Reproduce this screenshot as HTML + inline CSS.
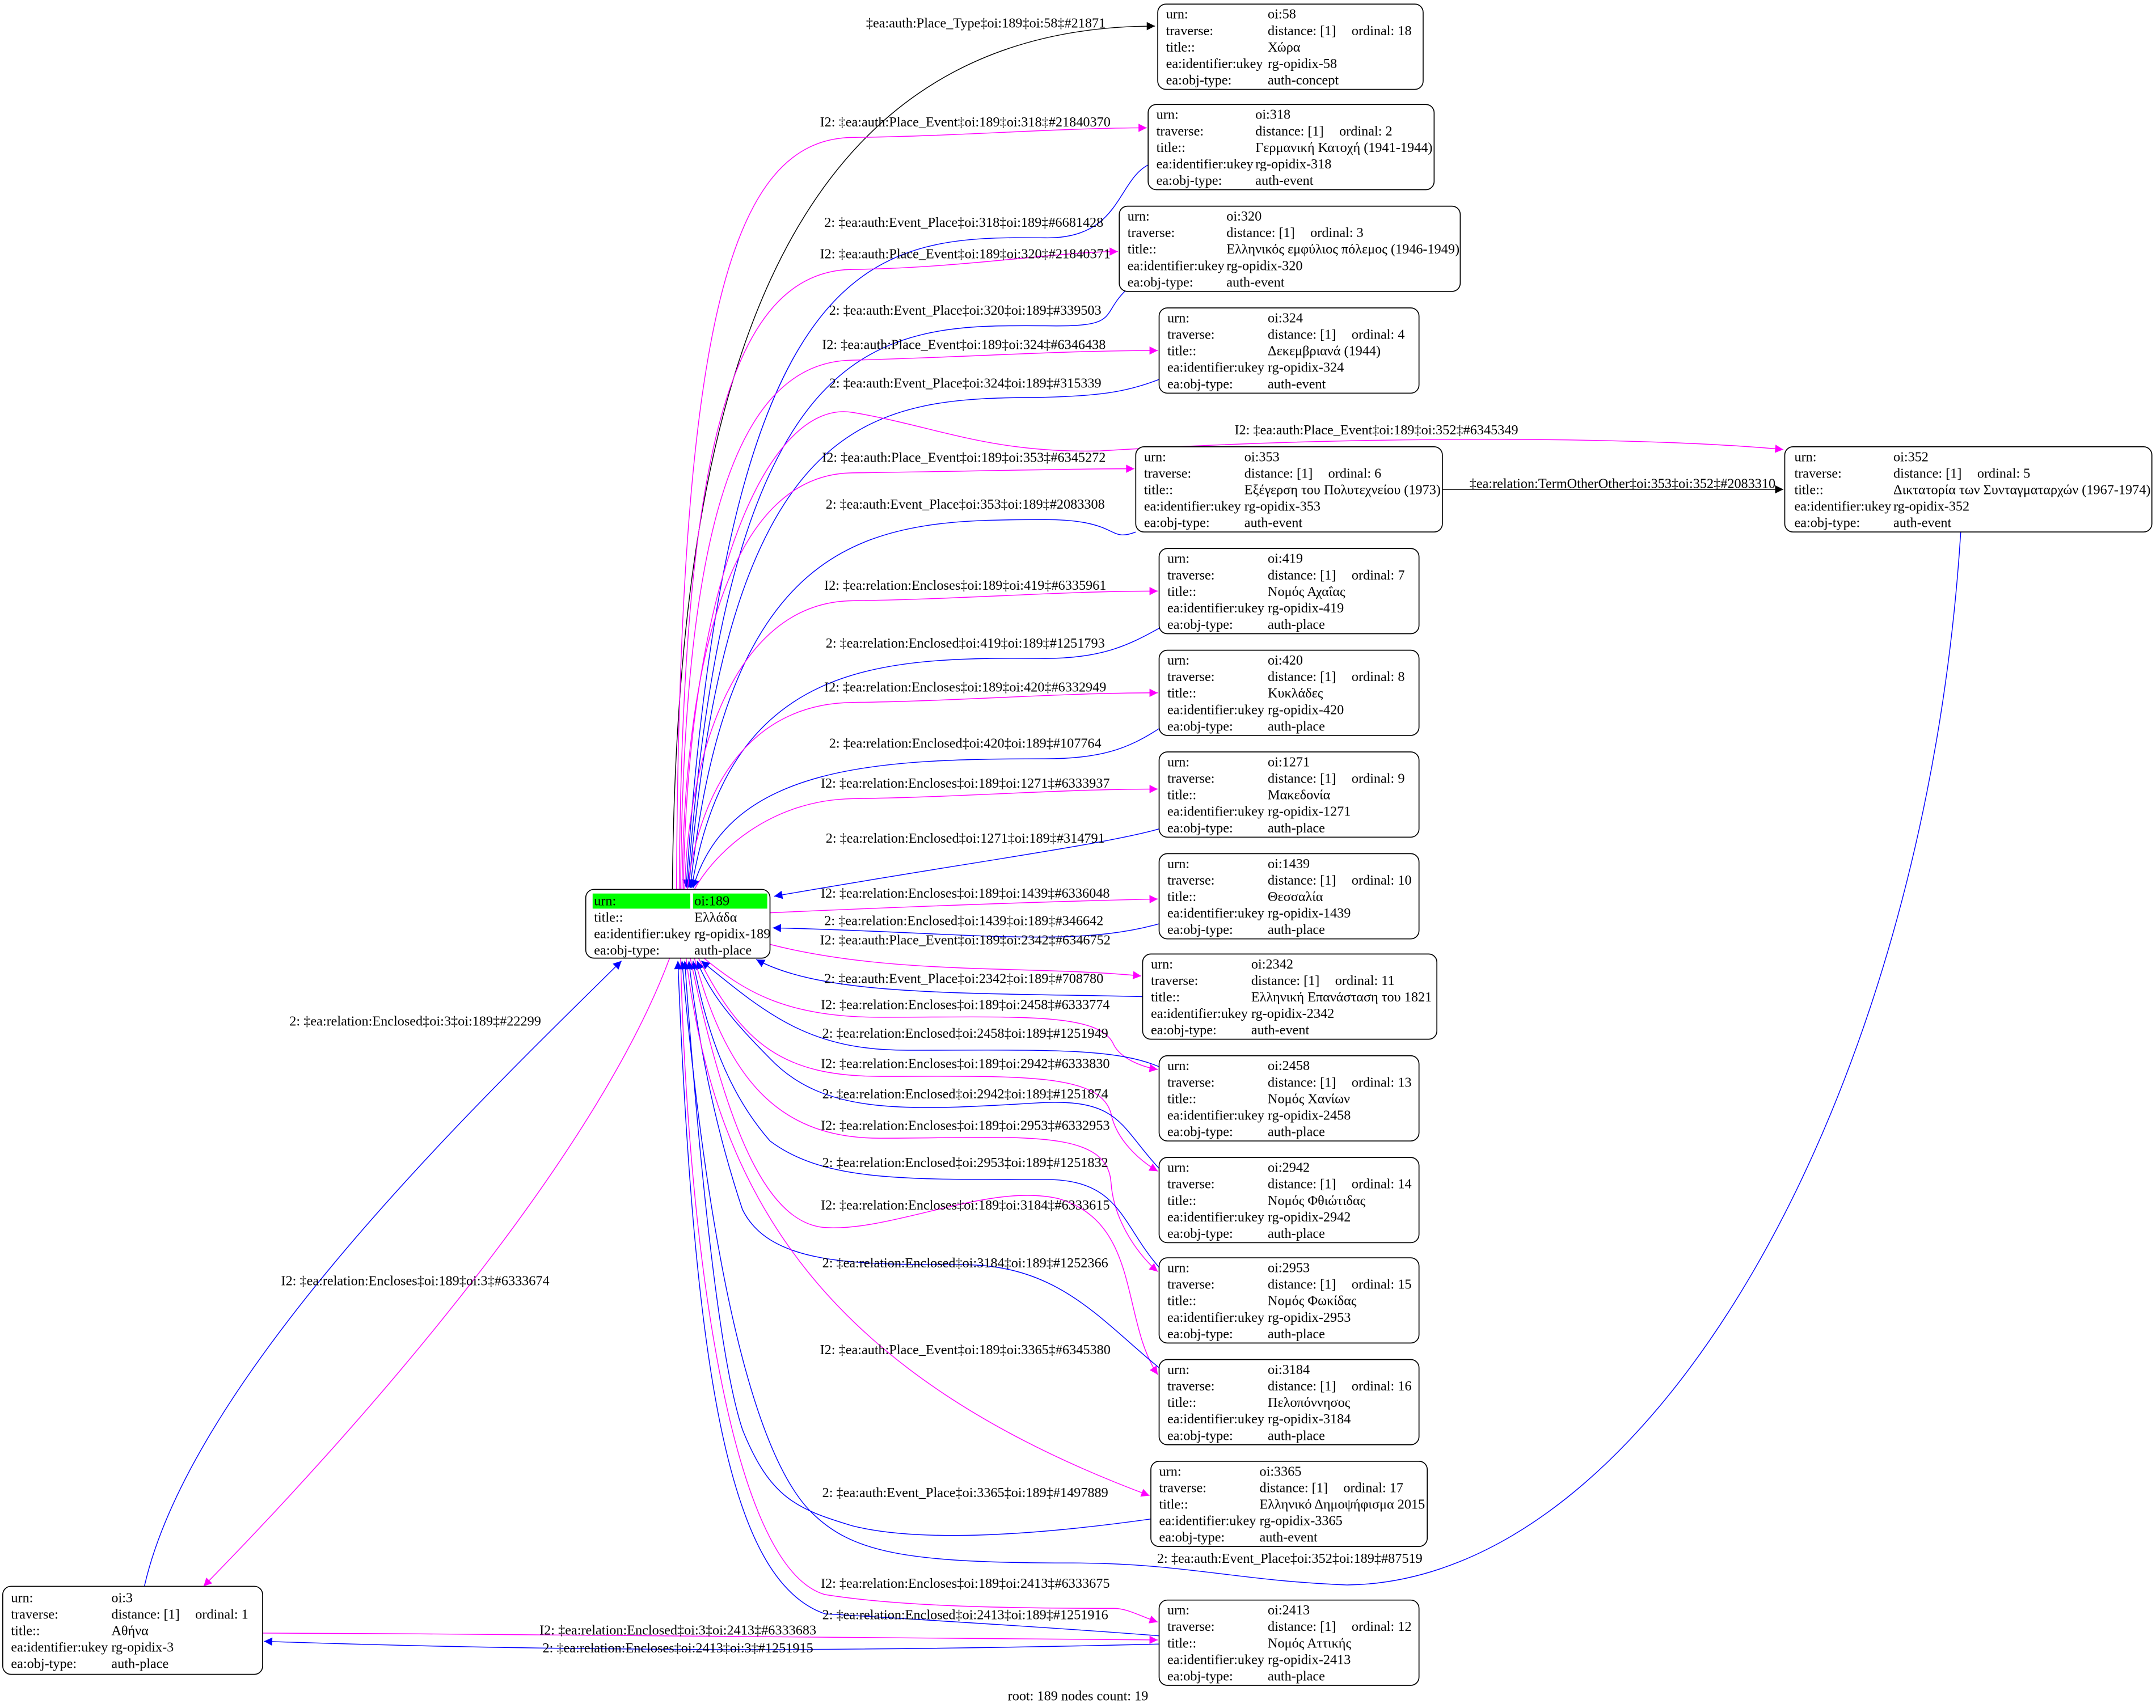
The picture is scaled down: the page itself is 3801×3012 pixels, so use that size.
<!DOCTYPE html>
<html><head><meta charset="utf-8"><style>
html,body{margin:0;padding:0;background:#fff;}
svg{display:block;}
text{font-family:"Liberation Serif","DejaVu Serif",serif;font-size:10px;fill:#000;}
.e{fill:none;stroke-width:0.6;}
.m{stroke:#ff00ff;}.b{stroke:#0000ff;}.k{stroke:#000;}
.n{fill:#fff;stroke:#000;stroke-width:0.7;}
.lc text{text-anchor:middle;}
</style></head><body>
<svg width="3801" height="3012" viewBox="0 0 1568 1242.5" preserveAspectRatio="none" xmlns="http://www.w3.org/2000/svg">
<defs>
<marker id="am" viewBox="0 0 10 10" refX="10" refY="5" markerWidth="8" markerHeight="6" orient="auto" markerUnits="userSpaceOnUse"><path d="M0,0L10,5L0,10z" fill="#ff00ff"/></marker>
<marker id="ab" viewBox="0 0 10 10" refX="10" refY="5" markerWidth="8" markerHeight="6" orient="auto" markerUnits="userSpaceOnUse"><path d="M0,0L10,5L0,10z" fill="#0000ff"/></marker>
<marker id="ak" viewBox="0 0 10 10" refX="10" refY="5" markerWidth="8" markerHeight="6" orient="auto" markerUnits="userSpaceOnUse"><path d="M0,0L10,5L0,10z" fill="#000"/></marker>
</defs>
<rect width="1568" height="1242.5" fill="#fff"/>

<!-- edges upper -->
<path class="e k" marker-end="url(#ak)" d="M489,647 C492,300 560,19 840,19"/>
<path class="e m" marker-end="url(#am)" d="M492,647 C494,239 530,101 620,100 C700,99 770,93 834,93"/>
<path class="e b" marker-end="url(#ab)" d="M835,120 C812,132 815,174 760,173 C640,172 530,172 499,646"/>
<path class="e m" marker-end="url(#am)" d="M494,647 C496,335 530,197 620,196 C700,195 770,183 813,183"/>
<path class="e b" marker-end="url(#ab)" d="M818,212 C800,230 815,238 760,237 C640,236 530,236 500,646"/>
<path class="e m" marker-end="url(#am)" d="M495,647 C497,401 530,263 620,262 C700,260 770,255 842,255"/>
<path class="e b" marker-end="url(#ab)" d="M843,276 C820,285 800,288 760,289 C640,290 530,290 501,646"/>
<path class="e m" marker-end="url(#am)" d="M497,647 C500,420 560,290 620,300 C680,310 720,330 800,328 C1000,316 1200,318 1297,327"/>
<path class="e m" marker-end="url(#am)" d="M496,647 C498,483 530,345 620,344 C700,343 770,341 825,341"/>
<path class="e b" marker-end="url(#ab)" d="M826,387 C805,395 815,378 760,378 C640,378 530,380 502,646"/>
<path class="e k" marker-end="url(#ak)" d="M1049,356 L1297,356"/>
<path class="e m" marker-end="url(#am)" d="M498,647 C500,560 530,438 620,437 C700,436 770,430 842,430"/>
<path class="e b" marker-end="url(#ab)" d="M843,457 C820,470 800,479 760,479 C640,478 530,480 503,646"/>
<path class="e m" marker-end="url(#am)" d="M500,647 C505,600 530,512 620,511 C700,510 770,504 842,504"/>
<path class="e b" marker-end="url(#ab)" d="M843,530 C820,545 800,552 760,552 C640,552 530,556 504,646"/>
<path class="e m" marker-end="url(#am)" d="M505,647 C520,620 560,582 620,581 C700,580 770,574 842,574"/>
<path class="e b" marker-end="url(#ab)" d="M843,603 C800,615 700,628 563,652"/>
<path class="e m" marker-end="url(#am)" d="M560,664 C650,660 750,656 842,654"/>
<path class="e b" marker-end="url(#ab)" d="M843,672 C780,690 700,678 562,675"/>
<path class="e m" marker-end="url(#am)" d="M560,687 C650,710 750,702 830,710"/>
<path class="e b" marker-end="url(#ab)" d="M831,725 C700,722 600,725 550,698"/>
<!-- lower -->
<path class="e m" marker-end="url(#am)" d="M512,697 C540,720 570,740 640,740 C740,740 800,736 810,760 C815,770 830,776 842,778"/>
<path class="e b" marker-end="url(#ab)" d="M843,776 C810,762 760,764 660,764 C590,764 560,740 510,699"/>
<path class="e m" marker-end="url(#am)" d="M508,697 C540,760 570,783 640,783 C740,783 800,780 808,810 C812,830 830,845 842,852"/>
<path class="e b" marker-end="url(#ab)" d="M843,850 C815,820 815,800 760,802 C660,808 600,812 560,770 C530,740 515,720 507,699"/>
<path class="e m" marker-end="url(#am)" d="M505,697 C530,790 570,828 640,828 C740,828 805,820 808,860 C810,890 830,915 842,925"/>
<path class="e b" marker-end="url(#ab)" d="M843,922 C815,890 815,858 760,858 C660,858 600,860 560,830 C525,790 512,740 504,699"/>
<path class="e m" marker-end="url(#am)" d="M502,697 C530,830 560,890 600,893 C650,896 720,860 770,872 C830,890 815,960 842,1000"/>
<path class="e b" marker-end="url(#ab)" d="M843,995 C800,960 770,920 700,920 C620,920 560,920 540,880 C520,820 508,760 501,699"/>
<path class="e m" marker-end="url(#am)" d="M499,697 C520,870 600,1000 836,1088"/>
<path class="e b" marker-end="url(#ab)" d="M837,1105 C730,1120 660,1120 620,1110 C580,1098 560,1090 540,1040 C520,980 505,800 498,699"/>
<path class="e b" marker-end="url(#ab)" d="M1426,387 C1400,800 1200,1150 980,1153 C900,1150 860,1137 780,1137 C660,1137 620,1130 590,1100 C530,1040 505,800 496,699"/>
<path class="e m" marker-end="url(#am)" d="M495,697 C500,900 530,1140 600,1160 C650,1168 720,1170 810,1170 C820,1170 830,1176 842,1180"/>
<path class="e b" marker-end="url(#ab)" d="M843,1190 C780,1185 700,1180 600,1174 C530,1150 505,1000 493,699"/>
<!-- left -->
<path class="e b" marker-end="url(#ab)" d="M105,1154 C140,1000 350,800 452,699"/>
<path class="e m" marker-end="url(#am)" d="M487,697 C430,850 250,1050 148,1154"/>
<path class="e m" marker-end="url(#am)" d="M191,1188 C400,1189 600,1190 842,1193"/>
<path class="e b" marker-end="url(#ab)" d="M843,1196 C600,1202 400,1201 192,1194"/>

<!-- edge labels -->
<g class="lc">
<text x="717" y="20">‡ea:auth:Place_Type‡oi:189‡oi:58‡#21871</text>
<text x="702" y="92">I2: ‡ea:auth:Place_Event‡oi:189‡oi:318‡#21840370</text>
<text x="701" y="165">2: ‡ea:auth:Event_Place‡oi:318‡oi:189‡#6681428</text>
<text x="702" y="188">I2: ‡ea:auth:Place_Event‡oi:189‡oi:320‡#21840371</text>
<text x="702" y="229">2: ‡ea:auth:Event_Place‡oi:320‡oi:189‡#339503</text>
<text x="701" y="254">I2: ‡ea:auth:Place_Event‡oi:189‡oi:324‡#6346438</text>
<text x="702" y="282">2: ‡ea:auth:Event_Place‡oi:324‡oi:189‡#315339</text>
<text x="1001" y="316">I2: ‡ea:auth:Place_Event‡oi:189‡oi:352‡#6345349</text>
<text x="701" y="336">I2: ‡ea:auth:Place_Event‡oi:189‡oi:353‡#6345272</text>
<text x="702" y="370">2: ‡ea:auth:Event_Place‡oi:353‡oi:189‡#2083308</text>
<text x="1180" y="355">‡ea:relation:TermOtherOther‡oi:353‡oi:352‡#2083310</text>
<text x="702" y="429">I2: ‡ea:relation:Encloses‡oi:189‡oi:419‡#6335961</text>
<text x="702" y="471">2: ‡ea:relation:Enclosed‡oi:419‡oi:189‡#1251793</text>
<text x="702" y="503">I2: ‡ea:relation:Encloses‡oi:189‡oi:420‡#6332949</text>
<text x="702" y="544">2: ‡ea:relation:Enclosed‡oi:420‡oi:189‡#107764</text>
<text x="702" y="573">I2: ‡ea:relation:Encloses‡oi:189‡oi:1271‡#6333937</text>
<text x="702" y="613">2: ‡ea:relation:Enclosed‡oi:1271‡oi:189‡#314791</text>
<text x="702" y="653">I2: ‡ea:relation:Encloses‡oi:189‡oi:1439‡#6336048</text>
<text x="701" y="673">2: ‡ea:relation:Enclosed‡oi:1439‡oi:189‡#346642</text>
<text x="702" y="687">I2: ‡ea:auth:Place_Event‡oi:189‡oi:2342‡#6346752</text>
<text x="701" y="715">2: ‡ea:auth:Event_Place‡oi:2342‡oi:189‡#708780</text>
<text x="702" y="734">I2: ‡ea:relation:Encloses‡oi:189‡oi:2458‡#6333774</text>
<text x="702" y="755">2: ‡ea:relation:Enclosed‡oi:2458‡oi:189‡#1251949</text>
<text x="702" y="777">I2: ‡ea:relation:Encloses‡oi:189‡oi:2942‡#6333830</text>
<text x="702" y="799">2: ‡ea:relation:Enclosed‡oi:2942‡oi:189‡#1251874</text>
<text x="702" y="822">I2: ‡ea:relation:Encloses‡oi:189‡oi:2953‡#6332953</text>
<text x="702" y="849">2: ‡ea:relation:Enclosed‡oi:2953‡oi:189‡#1251832</text>
<text x="702" y="880">I2: ‡ea:relation:Encloses‡oi:189‡oi:3184‡#6333615</text>
<text x="702" y="922">2: ‡ea:relation:Enclosed‡oi:3184‡oi:189‡#1252366</text>
<text x="702" y="985">I2: ‡ea:auth:Place_Event‡oi:189‡oi:3365‡#6345380</text>
<text x="702" y="1089">2: ‡ea:auth:Event_Place‡oi:3365‡oi:189‡#1497889</text>
<text x="938" y="1137">2: ‡ea:auth:Event_Place‡oi:352‡oi:189‡#87519</text>
<text x="702" y="1155">I2: ‡ea:relation:Encloses‡oi:189‡oi:2413‡#6333675</text>
<text x="702" y="1178">2: ‡ea:relation:Enclosed‡oi:2413‡oi:189‡#1251916</text>
<text x="302" y="746">2: ‡ea:relation:Enclosed‡oi:3‡oi:189‡#22299</text>
<text x="302" y="935">I2: ‡ea:relation:Encloses‡oi:189‡oi:3‡#6333674</text>
<text x="493" y="1189">I2: ‡ea:relation:Enclosed‡oi:3‡oi:2413‡#6333683</text>
<text x="493" y="1202">2: ‡ea:relation:Encloses‡oi:2413‡oi:3‡#1251915</text>
<text x="784" y="1237">root: 189 nodes count: 19</text>
</g>

<!-- root node -->
<rect class="n" x="426" y="647" width="134" height="50" rx="6"/>
<rect x="431" y="650" width="71" height="11" fill="#00ff00"/>
<rect x="504" y="650" width="54" height="11" fill="#00ff00"/>
<text x="432" y="658.5">urn:</text><text x="505" y="658.5">oi:189</text>
<text x="432" y="670.5">title::</text><text x="505" y="670.5">Ελλάδα</text>
<text x="432" y="682.5">ea:identifier:ukey</text><text x="505" y="682.5">rg-opidix-189</text>
<text x="432" y="694.5">ea:obj-type:</text><text x="505" y="694.5">auth-place</text>

<!-- nodes -->
<g transform="translate(842,3)"><rect class="n" x="0" y="0" width="193" height="62" rx="6"/><text x="6" y="10.5">urn:</text><text x="80" y="10.5">oi:58</text><text x="6" y="22.5">traverse:</text><text x="80" y="22.5">distance: [1]</text><text x="141" y="22.5">ordinal: 18</text><text x="6" y="34.5">title::</text><text x="80" y="34.5">Χώρα</text><text x="6" y="46.5">ea:identifier:ukey</text><text x="80" y="46.5">rg-opidix-58</text><text x="6" y="58.5">ea:obj-type:</text><text x="80" y="58.5">auth-concept</text></g>

<g transform="translate(835,76)"><rect class="n" x="0" y="0" width="208" height="62" rx="6"/><text x="6" y="10.5">urn:</text><text x="78" y="10.5">oi:318</text><text x="6" y="22.5">traverse:</text><text x="78" y="22.5">distance: [1]</text><text x="139" y="22.5">ordinal: 2</text><text x="6" y="34.5">title::</text><text x="78" y="34.5">Γερμανική Κατοχή (1941-1944)</text><text x="6" y="46.5">ea:identifier:ukey</text><text x="78" y="46.5">rg-opidix-318</text><text x="6" y="58.5">ea:obj-type:</text><text x="78" y="58.5">auth-event</text></g>

<g transform="translate(814,150)"><rect class="n" x="0" y="0" width="248" height="62" rx="6"/><text x="6" y="10.5">urn:</text><text x="78" y="10.5">oi:320</text><text x="6" y="22.5">traverse:</text><text x="78" y="22.5">distance: [1]</text><text x="139" y="22.5">ordinal: 3</text><text x="6" y="34.5">title::</text><text x="78" y="34.5">Ελληνικός εμφύλιος πόλεμος (1946-1949)</text><text x="6" y="46.5">ea:identifier:ukey</text><text x="78" y="46.5">rg-opidix-320</text><text x="6" y="58.5">ea:obj-type:</text><text x="78" y="58.5">auth-event</text></g>

<g transform="translate(843,224)"><rect class="n" x="0" y="0" width="189" height="62" rx="6"/><text x="6" y="10.5">urn:</text><text x="79" y="10.5">oi:324</text><text x="6" y="22.5">traverse:</text><text x="79" y="22.5">distance: [1]</text><text x="140" y="22.5">ordinal: 4</text><text x="6" y="34.5">title::</text><text x="79" y="34.5">Δεκεμβριανά (1944)</text><text x="6" y="46.5">ea:identifier:ukey</text><text x="79" y="46.5">rg-opidix-324</text><text x="6" y="58.5">ea:obj-type:</text><text x="79" y="58.5">auth-event</text></g>

<g transform="translate(826,325)"><rect class="n" x="0" y="0" width="223" height="62" rx="6"/><text x="6" y="10.5">urn:</text><text x="79" y="10.5">oi:353</text><text x="6" y="22.5">traverse:</text><text x="79" y="22.5">distance: [1]</text><text x="140" y="22.5">ordinal: 6</text><text x="6" y="34.5">title::</text><text x="79" y="34.5">Εξέγερση του Πολυτεχνείου (1973)</text><text x="6" y="46.5">ea:identifier:ukey</text><text x="79" y="46.5">rg-opidix-353</text><text x="6" y="58.5">ea:obj-type:</text><text x="79" y="58.5">auth-event</text></g>

<g transform="translate(1298,325)"><rect class="n" x="0" y="0" width="267" height="62" rx="6"/><text x="7" y="10.5">urn:</text><text x="79" y="10.5">oi:352</text><text x="7" y="22.5">traverse:</text><text x="79" y="22.5">distance: [1]</text><text x="140" y="22.5">ordinal: 5</text><text x="7" y="34.5">title::</text><text x="79" y="34.5">Δικτατορία των Συνταγματαρχών (1967-1974)</text><text x="7" y="46.5">ea:identifier:ukey</text><text x="79" y="46.5">rg-opidix-352</text><text x="7" y="58.5">ea:obj-type:</text><text x="79" y="58.5">auth-event</text></g>

<g transform="translate(843,399)"><rect class="n" x="0" y="0" width="189" height="62" rx="6"/><text x="6" y="10.5">urn:</text><text x="79" y="10.5">oi:419</text><text x="6" y="22.5">traverse:</text><text x="79" y="22.5">distance: [1]</text><text x="140" y="22.5">ordinal: 7</text><text x="6" y="34.5">title::</text><text x="79" y="34.5">Νομός Αχαΐας</text><text x="6" y="46.5">ea:identifier:ukey</text><text x="79" y="46.5">rg-opidix-419</text><text x="6" y="58.5">ea:obj-type:</text><text x="79" y="58.5">auth-place</text></g>

<g transform="translate(843,473)"><rect class="n" x="0" y="0" width="189" height="62" rx="6"/><text x="6" y="10.5">urn:</text><text x="79" y="10.5">oi:420</text><text x="6" y="22.5">traverse:</text><text x="79" y="22.5">distance: [1]</text><text x="140" y="22.5">ordinal: 8</text><text x="6" y="34.5">title::</text><text x="79" y="34.5">Κυκλάδες</text><text x="6" y="46.5">ea:identifier:ukey</text><text x="79" y="46.5">rg-opidix-420</text><text x="6" y="58.5">ea:obj-type:</text><text x="79" y="58.5">auth-place</text></g>

<g transform="translate(843,547)"><rect class="n" x="0" y="0" width="189" height="62" rx="6"/><text x="6" y="10.5">urn:</text><text x="79" y="10.5">oi:1271</text><text x="6" y="22.5">traverse:</text><text x="79" y="22.5">distance: [1]</text><text x="140" y="22.5">ordinal: 9</text><text x="6" y="34.5">title::</text><text x="79" y="34.5">Μακεδονία</text><text x="6" y="46.5">ea:identifier:ukey</text><text x="79" y="46.5">rg-opidix-1271</text><text x="6" y="58.5">ea:obj-type:</text><text x="79" y="58.5">auth-place</text></g>

<g transform="translate(843,621)"><rect class="n" x="0" y="0" width="189" height="62" rx="6"/><text x="6" y="10.5">urn:</text><text x="79" y="10.5">oi:1439</text><text x="6" y="22.5">traverse:</text><text x="79" y="22.5">distance: [1]</text><text x="140" y="22.5">ordinal: 10</text><text x="6" y="34.5">title::</text><text x="79" y="34.5">Θεσσαλία</text><text x="6" y="46.5">ea:identifier:ukey</text><text x="79" y="46.5">rg-opidix-1439</text><text x="6" y="58.5">ea:obj-type:</text><text x="79" y="58.5">auth-place</text></g>

<g transform="translate(831,694)"><rect class="n" x="0" y="0" width="214" height="62" rx="6"/><text x="6" y="10.5">urn:</text><text x="79" y="10.5">oi:2342</text><text x="6" y="22.5">traverse:</text><text x="79" y="22.5">distance: [1]</text><text x="140" y="22.5">ordinal: 11</text><text x="6" y="34.5">title::</text><text x="79" y="34.5">Ελληνική Επανάσταση του 1821</text><text x="6" y="46.5">ea:identifier:ukey</text><text x="79" y="46.5">rg-opidix-2342</text><text x="6" y="58.5">ea:obj-type:</text><text x="79" y="58.5">auth-event</text></g>

<g transform="translate(843,768)"><rect class="n" x="0" y="0" width="189" height="62" rx="6"/><text x="6" y="10.5">urn:</text><text x="79" y="10.5">oi:2458</text><text x="6" y="22.5">traverse:</text><text x="79" y="22.5">distance: [1]</text><text x="140" y="22.5">ordinal: 13</text><text x="6" y="34.5">title::</text><text x="79" y="34.5">Νομός Χανίων</text><text x="6" y="46.5">ea:identifier:ukey</text><text x="79" y="46.5">rg-opidix-2458</text><text x="6" y="58.5">ea:obj-type:</text><text x="79" y="58.5">auth-place</text></g>

<g transform="translate(843,842)"><rect class="n" x="0" y="0" width="189" height="62" rx="6"/><text x="6" y="10.5">urn:</text><text x="79" y="10.5">oi:2942</text><text x="6" y="22.5">traverse:</text><text x="79" y="22.5">distance: [1]</text><text x="140" y="22.5">ordinal: 14</text><text x="6" y="34.5">title::</text><text x="79" y="34.5">Νομός Φθιώτιδας</text><text x="6" y="46.5">ea:identifier:ukey</text><text x="79" y="46.5">rg-opidix-2942</text><text x="6" y="58.5">ea:obj-type:</text><text x="79" y="58.5">auth-place</text></g>

<g transform="translate(843,915)"><rect class="n" x="0" y="0" width="189" height="62" rx="6"/><text x="6" y="10.5">urn:</text><text x="79" y="10.5">oi:2953</text><text x="6" y="22.5">traverse:</text><text x="79" y="22.5">distance: [1]</text><text x="140" y="22.5">ordinal: 15</text><text x="6" y="34.5">title::</text><text x="79" y="34.5">Νομός Φωκίδας</text><text x="6" y="46.5">ea:identifier:ukey</text><text x="79" y="46.5">rg-opidix-2953</text><text x="6" y="58.5">ea:obj-type:</text><text x="79" y="58.5">auth-place</text></g>

<g transform="translate(843,989)"><rect class="n" x="0" y="0" width="189" height="62" rx="6"/><text x="6" y="10.5">urn:</text><text x="79" y="10.5">oi:3184</text><text x="6" y="22.5">traverse:</text><text x="79" y="22.5">distance: [1]</text><text x="140" y="22.5">ordinal: 16</text><text x="6" y="34.5">title::</text><text x="79" y="34.5">Πελοπόννησος</text><text x="6" y="46.5">ea:identifier:ukey</text><text x="79" y="46.5">rg-opidix-3184</text><text x="6" y="58.5">ea:obj-type:</text><text x="79" y="58.5">auth-place</text></g>

<g transform="translate(837,1063)"><rect class="n" x="0" y="0" width="201" height="62" rx="6"/><text x="6" y="10.5">urn:</text><text x="79" y="10.5">oi:3365</text><text x="6" y="22.5">traverse:</text><text x="79" y="22.5">distance: [1]</text><text x="140" y="22.5">ordinal: 17</text><text x="6" y="34.5">title::</text><text x="79" y="34.5">Ελληνικό Δημοψήφισμα 2015</text><text x="6" y="46.5">ea:identifier:ukey</text><text x="79" y="46.5">rg-opidix-3365</text><text x="6" y="58.5">ea:obj-type:</text><text x="79" y="58.5">auth-event</text></g>

<g transform="translate(843,1164)"><rect class="n" x="0" y="0" width="189" height="62" rx="6"/><text x="6" y="10.5">urn:</text><text x="79" y="10.5">oi:2413</text><text x="6" y="22.5">traverse:</text><text x="79" y="22.5">distance: [1]</text><text x="140" y="22.5">ordinal: 12</text><text x="6" y="34.5">title::</text><text x="79" y="34.5">Νομός Αττικής</text><text x="6" y="46.5">ea:identifier:ukey</text><text x="79" y="46.5">rg-opidix-2413</text><text x="6" y="58.5">ea:obj-type:</text><text x="79" y="58.5">auth-place</text></g>

<g transform="translate(2,1154)"><rect class="n" x="0" y="0" width="189" height="64" rx="6"/><text x="6" y="11.5">urn:</text><text x="79" y="11.5">oi:3</text><text x="6" y="23.5">traverse:</text><text x="79" y="23.5">distance: [1]</text><text x="140" y="23.5">ordinal: 1</text><text x="6" y="35.5">title::</text><text x="79" y="35.5">Αθήνα</text><text x="6" y="47.5">ea:identifier:ukey</text><text x="79" y="47.5">rg-opidix-3</text><text x="6" y="59.5">ea:obj-type:</text><text x="79" y="59.5">auth-place</text></g>
</svg>
</body></html>
